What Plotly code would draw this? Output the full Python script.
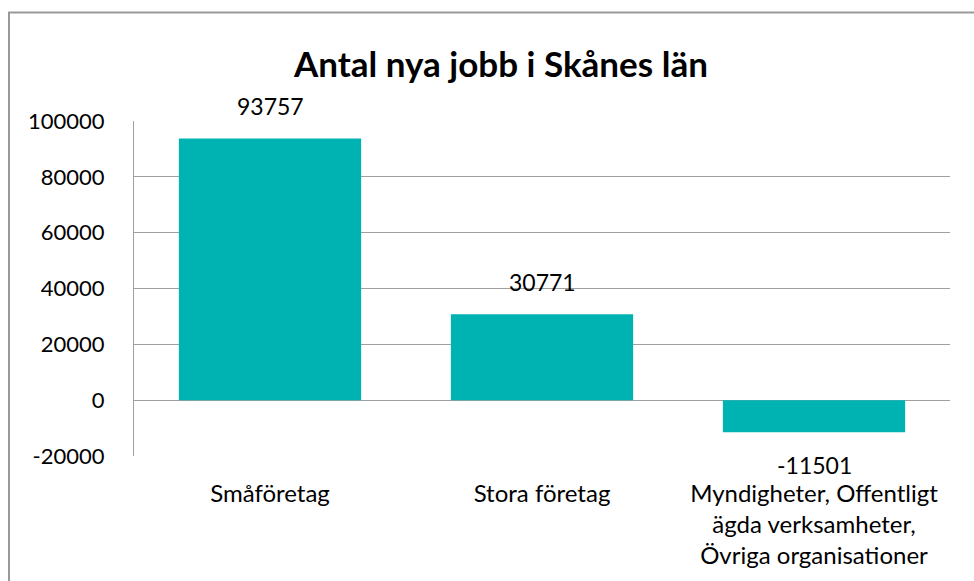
import plotly.graph_objects as go

categories = ["Småföretag", "Stora företag", "Myndigheter, Offentligt<br>ägda verksamheter,<br>Övriga organisationer"]
values = [93757, 30771, -11501]
tick_vals = [-20000, 0, 20000, 40000, 60000, 80000, 100000]
tick_text = [str(v) for v in tick_vals]
title_text = "Antal nya jobb i Skånes län"

BAR = "#00B3B3"
GRID = "#a0a0a0"
FONT = "Lato, 'Open Sans', sans-serif"

fig = go.Figure()
fig.add_trace(go.Bar(x=categories, y=values, marker=dict(color=BAR, line=dict(width=0)),
                     hoverinfo="skip"))

annotations = []
for c, v in zip(categories, values):
    pos = v >= 0
    annotations.append(dict(x=c, y=v, xref="x", yref="y", text=str(v), showarrow=False,
                            yanchor="bottom" if pos else "top",
                            yshift=16 if pos else -17,
                            font=dict(family=FONT, size=23, color="#000")))
annotations.append(dict(x=0.5 + (500 - 542) / 816, y=(456 - 63) / 335.3, xref="paper", yref="paper",
                        text=f"<b>{title_text}</b>", showarrow=False, xanchor="center", yanchor="middle",
                        font=dict(family=FONT, size=35, color="#000")))
fig.update_layout(annotations=annotations)

fig.update_layout(
    width=974, height=581,
    margin=dict(l=134, r=24, t=121, b=125),
    paper_bgcolor="white", plot_bgcolor="white",
    showlegend=False, bargap=0.33,
    font=dict(family=FONT, size=22, color="#000"),
    xaxis=dict(showgrid=False, showline=False, ticks="", ticklabelstandoff=21,
               tickfont=dict(family=FONT, size=24, color="#000")),
    yaxis=dict(range=[-20000, 100000], tickvals=tick_vals, ticktext=tick_text,
               showgrid=True, gridcolor=GRID, gridwidth=1.3,
               zeroline=True, zerolinecolor=GRID, zerolinewidth=1.3,
               showline=True, linecolor=GRID, linewidth=1.3, ticks="",
               ticklabelstandoff=24,
               tickfont=dict(family=FONT, size=22, color="#000")),
    shapes=[dict(type="rect", xref="paper", yref="paper",
                 x0=(9 - 134) / 816, x1=(990 - 134) / 816,
                 y0=(456 - 600) / 335.3, y1=(456 - 12) / 335.3,
                 line=dict(color="#999999", width=2), fillcolor="rgba(0,0,0,0)", layer="below")],
)

fig.write_html("out.html", config={"displayModeBar": False},
               post_script="document.body.style.margin='0';document.body.style.overflow='hidden';")
